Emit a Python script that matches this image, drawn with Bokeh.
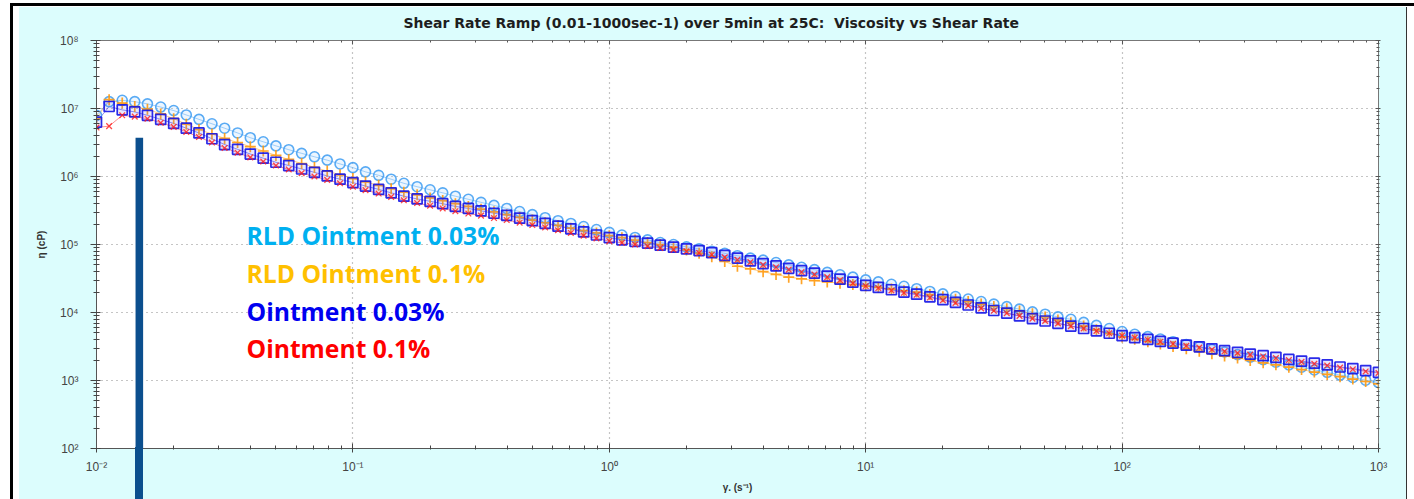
from bokeh.plotting import figure
from bokeh.models import (ColumnDataSource, LogAxis, FixedTicker, Label, BoxAnnotation,
                          CustomJSTickFormatter, Range1d, InlineStyleSheet)
from bokeh.embed import file_html
from bokeh.resources import INLINE

# ---------------- data ----------------
shear_rate = [
    0.01, 0.0112, 0.0126, 0.0141, 0.0158, 0.0178, 0.02, 0.0224, 0.0251, 0.0282,
    0.0316, 0.0355, 0.0398, 0.0447, 0.0501, 0.0562, 0.0631, 0.0708, 0.0794, 0.0891,
    0.1, 0.112, 0.126, 0.141, 0.158, 0.178, 0.2, 0.224, 0.251, 0.282,
    0.316, 0.355, 0.398, 0.447, 0.501, 0.562, 0.631, 0.708, 0.794, 0.891,
    1.0, 1.12, 1.26, 1.41, 1.58, 1.78, 2.0, 2.24, 2.51, 2.82,
    3.16, 3.55, 3.98, 4.47, 5.01, 5.62, 6.31, 7.08, 7.94, 8.91,
    10.0, 11.2, 12.6, 14.1, 15.8, 17.8, 20.0, 22.4, 25.1, 28.2,
    31.6, 35.5, 39.8, 44.7, 50.1, 56.2, 63.1, 70.8, 79.4, 89.1,
    100.0, 112.0, 126.0, 141.0, 158.0, 178.0, 200.0, 224.0, 251.0, 282.0,
    316.0, 355.0, 398.0, 447.0, 501.0, 562.0, 631.0, 708.0, 794.0, 891.0,
    1000.0,
]

rld_003 = [
    7.94e6, 1.26e7, 1.32e7, 1.26e7, 1.17e7, 1.05e7, 9.33e6, 8.04e6, 6.92e6, 5.96e6,
    5.13e6, 4.37e6, 3.72e6, 3.24e6, 2.82e6, 2.48e6, 2.19e6, 1.95e6, 1.74e6, 1.53e6,
    1.35e6, 1.17e6, 1.04e6, 9.12e5, 7.94e5, 7.08e5, 6.38e5, 5.75e5, 5.13e5, 4.62e5,
    4.17e5, 3.76e5, 3.39e5, 3.05e5, 2.75e5, 2.48e5, 2.24e5, 2.04e5, 1.84e5, 1.66e5,
    1.51e5, 1.38e5, 1.27e5, 1.17e5, 1.07e5, 1.00e5, 9.23e4, 8.61e4, 7.94e4, 7.41e4,
    6.84e4, 6.31e4, 5.89e4, 5.43e4, 5.01e4, 4.62e4, 4.27e4, 3.89e4, 3.59e4, 3.31e4,
    3.02e4, 2.82e4, 2.60e4, 2.43e4, 2.24e4, 2.04e4, 1.88e4, 1.72e4, 1.58e4, 1.45e4,
    1.33e4, 1.22e4, 1.12e4, 1.02e4, 9.44e3, 8.61e3, 7.94e3, 7.16e3, 6.46e3, 5.82e3,
    5.25e3, 4.79e3, 4.42e3, 4.07e3, 3.72e3, 3.39e3, 3.13e3, 2.85e3, 2.63e3, 2.40e3,
    2.21e3, 2.02e3, 1.86e3, 1.70e3, 1.57e3, 1.43e3, 1.32e3, 1.20e3, 1.11e3, 1.01e3,
    933.0,
]

rld_01 = [
    7.08e6, 1.35e7, 1.20e7, 1.07e7, 9.77e6, 8.32e6, 7.08e6, 5.89e6, 4.90e6, 4.22e6,
    3.63e6, 3.16e6, 2.75e6, 2.37e6, 2.04e6, 1.78e6, 1.55e6, 1.36e6, 1.20e6, 1.06e6,
    9.33e5, 8.32e5, 7.41e5, 6.61e5, 5.89e5, 5.37e5, 4.84e5, 4.42e5, 3.98e5, 3.63e5,
    3.31e5, 3.02e5, 2.75e5, 2.51e5, 2.29e5, 2.09e5, 1.91e5, 1.74e5, 1.60e5, 1.48e5,
    1.35e5, 1.26e5, 1.16e5, 1.07e5, 1.00e5, 9.12e4, 8.32e4, 7.41e4, 6.61e4, 5.62e4,
    4.79e4, 4.37e4, 3.98e4, 3.63e4, 3.31e4, 3.13e4, 2.95e4, 2.82e4, 2.69e4, 2.57e4,
    2.45e4, 2.34e4, 2.21e4, 2.09e4, 2.00e4, 1.84e4, 1.70e4, 1.57e4, 1.45e4, 1.33e4,
    1.23e4, 1.14e4, 1.05e4, 9.55e3, 8.61e3, 7.76e3, 7.08e3, 6.31e3, 5.56e3, 4.90e3,
    4.37e3, 4.03e3, 3.72e3, 3.43e3, 3.16e3, 2.92e3, 2.69e3, 2.48e3, 2.29e3, 2.14e3,
    1.97e3, 1.82e3, 1.70e3, 1.57e3, 1.45e3, 1.33e3, 1.23e3, 1.14e3, 1.05e3, 966.0,
    891.0,
]

oint_003 = [
    6.31e6, 1.07e7, 9.55e6, 8.91e6, 7.94e6, 6.92e6, 6.03e6, 5.13e6, 4.37e6, 3.59e6,
    2.95e6, 2.51e6, 2.14e6, 1.86e6, 1.62e6, 1.45e6, 1.29e6, 1.15e6, 1.02e6, 9.12e5,
    8.13e5, 7.24e5, 6.46e5, 5.75e5, 5.13e5, 4.68e5, 4.32e5, 3.98e5, 3.63e5, 3.39e5,
    3.13e5, 2.88e5, 2.69e5, 2.45e5, 2.24e5, 2.04e5, 1.86e5, 1.70e5, 1.53e5, 1.38e5,
    1.26e5, 1.17e5, 1.11e5, 1.05e5, 9.77e4, 9.12e4, 8.61e4, 8.13e4, 7.59e4, 6.92e4,
    6.31e4, 5.75e4, 5.25e4, 4.84e4, 4.47e4, 4.12e4, 3.80e4, 3.43e4, 3.09e4, 2.79e4,
    2.51e4, 2.34e4, 2.16e4, 2.00e4, 1.86e4, 1.70e4, 1.55e4, 1.41e4, 1.29e4, 1.17e4,
    1.07e4, 9.77e3, 8.91e3, 8.13e3, 7.50e3, 6.92e3, 6.31e3, 5.82e3, 5.37e3, 4.95e3,
    4.57e3, 4.27e3, 4.03e3, 3.76e3, 3.55e3, 3.31e3, 3.13e3, 2.92e3, 2.75e3, 2.60e3,
    2.45e3, 2.32e3, 2.19e3, 2.04e3, 1.93e3, 1.80e3, 1.70e3, 1.58e3, 1.50e3, 1.40e3,
    1.32e3,
]

oint_01 = [
    5.25e6, 5.50e6, 7.94e6, 7.59e6, 7.08e6, 6.17e6, 5.37e6, 4.52e6, 3.80e6, 3.16e6,
    2.63e6, 2.24e6, 1.91e6, 1.66e6, 1.45e6, 1.27e6, 1.12e6, 1.00e6, 8.91e5, 7.94e5,
    7.08e5, 6.31e5, 5.62e5, 5.01e5, 4.47e5, 4.07e5, 3.72e5, 3.39e5, 3.09e5, 2.85e5,
    2.66e5, 2.45e5, 2.29e5, 2.09e5, 1.93e5, 1.78e5, 1.62e5, 1.48e5, 1.35e5, 1.23e5,
    1.12e5, 1.06e5, 1.00e5, 9.44e4, 8.91e4, 8.41e4, 7.94e4, 7.50e4, 7.08e4, 6.46e4,
    5.96e4, 5.50e4, 5.01e4, 4.62e4, 4.27e4, 3.94e4, 3.63e4, 3.31e4, 2.99e4, 2.69e4,
    2.45e4, 2.29e4, 2.11e4, 1.95e4, 1.82e4, 1.66e4, 1.51e4, 1.38e4, 1.26e4, 1.15e4,
    1.06e4, 9.77e3, 8.91e3, 8.13e3, 7.50e3, 6.92e3, 6.31e3, 5.82e3, 5.37e3, 4.95e3,
    4.57e3, 4.27e3, 3.98e3, 3.72e3, 3.47e3, 3.24e3, 3.05e3, 2.85e3, 2.69e3, 2.54e3,
    2.40e3, 2.26e3, 2.14e3, 2.00e3, 1.88e3, 1.76e3, 1.66e3, 1.55e3, 1.46e3, 1.36e3,
    1.29e3,
]

series_names = ["RLD Ointment 0.03%", "RLD Ointment 0.1%", "Ointment 0.03%", "Ointment 0.1%"]

x_ticks = [0.01, 0.1, 1, 10, 100, 1000]
x_tick_labels = ["10\u207b\u00b2", "10\u207b\u00b9", "10\u2070", "10\u00b9", "10\u00b2", "10\u00b3"]
y_ticks = [1e2, 1e3, 1e4, 1e5, 1e6, 1e7, 1e8]
y_tick_labels = ["10\u00b2", "10\u00b3", "10\u2074", "10\u2075", "10\u2076", "10\u2077", "10\u2078"]

title_text = "Shear Rate Ramp (0.01-1000sec-1) over 5min at 25C:\u00a0 Viscosity vs Shear Rate"
x_label = "\u03b3. (s\u207b\u00b9)"
y_label = "\u03b7 (cP)"

# ---------------- figure ----------------
PANEL = "#dcfdfd"
W, H = 1414, 499
p = figure(width=W, height=H, x_axis_type="log", y_axis_type="log",
           x_range=Range1d(0.01, 1000), y_range=Range1d(1e2, 1e8),
           output_backend="svg", toolbar_location=None,
           min_border_left=96, min_border_right=36, min_border_top=40, min_border_bottom=51,
           border_fill_color=PANEL, background_fill_color="white",
           outline_line_color="#777777", outline_line_width=1)

p.title.text = title_text
p.title.text_font = "DejaVu Sans"
p.title.text_font_style = "bold"
p.title.text_font_size = "14px"
p.title.text_color = "#1e1e1e"
p.title.align = "left"
p.title.offset = 307
p.title.standoff = 19

x_minor = [m * d for d in [0.01, 0.1, 1, 10, 100] for m in range(2, 10)]
y_minor = [m * d for d in [1e2, 1e3, 1e4, 1e5, 1e6, 1e7] for m in range(2, 10)]
xt = FixedTicker(ticks=x_ticks, minor_ticks=x_minor)
yt = FixedTicker(ticks=y_ticks, minor_ticks=y_minor)

ax = p.xaxis[0]
ax.ticker = xt
ax.major_label_overrides = dict(zip(x_ticks, x_tick_labels))
ay = p.yaxis[0]
ay.ticker = yt
ay.major_label_overrides = dict(zip(y_ticks, y_tick_labels))

for a in (ax, ay):
    a.axis_line_color = "#555555"
    a.major_tick_line_color = "#444444"
    a.minor_tick_line_color = "#444444"
    a.major_label_text_font = "Liberation Sans"
    a.major_label_text_font_size = "12px"
    a.major_label_text_color = "#444444"
    a.axis_label_text_font = "Liberation Sans"
    a.axis_label_text_font_size = "10px"
    a.axis_label_text_font_style = "bold"
    a.axis_label_text_color = "#333333"

ax.axis_label = x_label
ax.major_tick_in, ax.major_tick_out = 5, 4
ax.minor_tick_in, ax.minor_tick_out = 3, 1
ax.major_label_standoff = 7
ax.axis_label_standoff = 5

ay.axis_label = y_label
ay.major_tick_in, ay.major_tick_out = 4, 6
ay.minor_tick_in, ay.minor_tick_out = 3, 3
ay.major_label_standoff = 12
ay.axis_label_standoff = 10

blank = CustomJSTickFormatter(code="return ''")
top_ax = LogAxis(ticker=xt, formatter=blank, axis_line_color=None, major_label_standoff=0,
                 major_tick_in=4, major_tick_out=0, minor_tick_in=2, minor_tick_out=0,
                 major_tick_line_color="#555555", minor_tick_line_color="#555555")
right_ax = LogAxis(ticker=yt, formatter=blank, axis_line_color=None, major_label_standoff=0,
                   major_tick_in=3, major_tick_out=2, minor_tick_in=2, minor_tick_out=1,
                   major_tick_line_color="#555555", minor_tick_line_color="#555555")
p.add_layout(top_ax, "above")
p.add_layout(right_ax, "right")

for g, t in ((p.xgrid[0], xt), (p.ygrid[0], yt)):
    g.ticker = t
    g.grid_line_color = "#8a8a8a"
    g.grid_line_dash = "1 4"
    g.grid_line_width = 1.2

src = ColumnDataSource(dict(x=shear_rate, a=rld_003, b=rld_01, c=oint_003, d=oint_01))

# lines (thin connectors)
p.line("x", "a", source=src, line_color="#3d9cf2", line_width=1, line_alpha=0.5)
p.line("x", "b", source=src, line_color="#ff9a10", line_width=1, line_alpha=0.5)
p.line("x", "c", source=src, line_color="#2020e0", line_width=1, line_alpha=0.5)
p.line("x", "d", source=src, line_color="#ff2020", line_width=1, line_alpha=0.5)

p.scatter("x", "a", source=src, marker="circle", size=10, line_color="#3d9cf2",
          line_width=1.6, fill_color="#9fd0ff", fill_alpha=0.2, line_alpha=0.85)
p.scatter("x", "b", source=src, marker="cross", size=11, line_color="#ff9a10",
          line_width=1.7, line_alpha=0.9)
p.scatter("x", "c", source=src, marker="square", size=10, line_color="#1414e6",
          line_width=1.7, fill_color="#6a6af0", fill_alpha=0.15, line_alpha=0.9)
p.scatter("x", "d", source=src, marker="x", size=8, line_color="#ff1a1a",
          line_width=1.3, line_alpha=0.8)

# coloured legend text
legend_colors = ["#00b0f0", "#ffc000", "#0000f0", "#ff0000"]
legend_y = [213, 175, 137, 100]
for name, col, yy in zip(series_names, legend_colors, legend_y):
    p.add_layout(Label(x=150, y=yy, x_units="screen", y_units="screen", text=name,
                       text_align="left", text_baseline="alphabetic",
                       text_font="Open Sans", text_font_style="bold",
                       text_font_size="24.7px", text_color=col))

# dark vertical marker bar (part inside the plotting frame)
p.add_layout(BoxAnnotation(left=0.0142, right=0.0152, top=3.7e6, bottom=1,
                           fill_color="#0b4f8e", fill_alpha=1.0, line_color=None))

# page border round the cyan panel, and the bar's continuation below the frame
p.stylesheets.append(InlineStyleSheet(css="""
:host { position: relative; }
:host::after {
  content: ""; position: absolute; left: 10px; top: 3px; right: 0px; bottom: 0px;
  box-sizing: border-box; border-left: 3px solid #000; border-top: 3px solid #000;
  box-shadow: inset 6px 1px 0 0 #fff, inset -7px 0 0 0 #fff, inset -8px 0 0 0 #333,
              0 0 0 30px #fff;
  pointer-events: none; z-index: 20;
}
:host::before {
  content: ""; position: absolute; left: 135px; width: 7.6px; top: 447px; bottom: 0px;
  background: #0b4f8e; pointer-events: none; z-index: 19;
}
"""))

open("out.html", "w").write(file_html(p, INLINE))
